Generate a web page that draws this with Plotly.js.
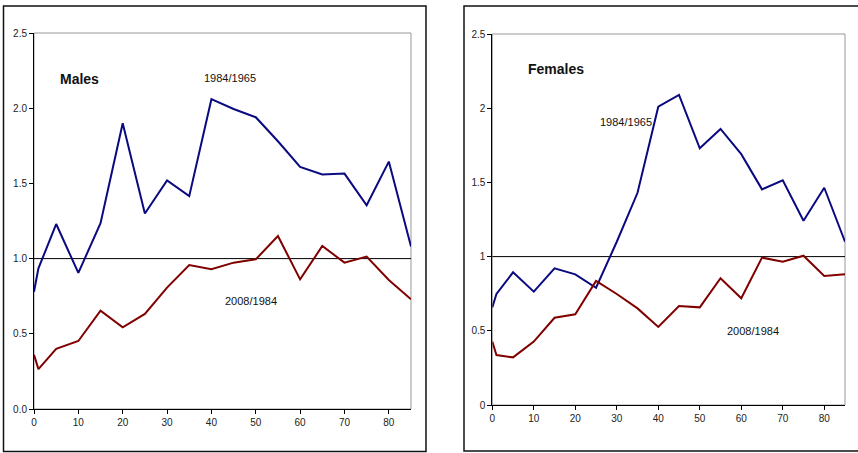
<!DOCTYPE html>
<html>
<head>
<meta charset="utf-8">
<script src="https://cdn.plot.ly/plotly-3.0.1.min.js"></script>
<style>html,body{margin:0;padding:0;background:#fff;}#chart{width:858px;height:453px;}</style>
</head>
<body>
<div id="chart"></div>
<script>
var ages = [0, 1, 5, 10, 15, 20, 25, 30, 35, 40, 45, 50, 55, 60, 65, 70, 75, 80, 85];
var males8465 = [0.78, 0.935, 1.23, 0.905, 1.235, 1.90, 1.30, 1.52, 1.415, 2.06, 1.995, 1.94, 1.78, 1.61, 1.56, 1.565, 1.355, 1.645, 1.08];
var males0884 = [0.36, 0.265, 0.40, 0.452, 0.654, 0.543, 0.632, 0.807, 0.957, 0.929, 0.973, 0.995, 1.15, 0.862, 1.084, 0.973, 1.013, 0.858, 0.73];
var females8465 = [0.658, 0.748, 0.894, 0.764, 0.921, 0.88, 0.79, 1.1, 1.43, 2.01, 2.089, 1.73, 1.86, 1.69, 1.453, 1.514, 1.242, 1.464, 1.10];
var females0884 = [0.427, 0.337, 0.321, 0.427, 0.588, 0.611, 0.836, 0.748, 0.651, 0.526, 0.667, 0.658, 0.854, 0.719, 0.993, 0.966, 1.006, 0.869, 0.881];
var panelTitles = ['Males', 'Females'];
var seriesNames = ['1984/1965', '2008/1984'];

var blue = '#0a0a80';
var red = '#800000';
var fontFam = '"Liberation Sans", Arial, sans-serif';

var traces = [
  {x: ages, y: males8465, xaxis: 'x', yaxis: 'y', mode: 'lines', line: {color: blue, width: 2}, name: seriesNames[0]},
  {x: ages, y: males0884, xaxis: 'x', yaxis: 'y', mode: 'lines', line: {color: red, width: 2}, name: seriesNames[1]},
  {x: ages, y: females8465, xaxis: 'x2', yaxis: 'y2', mode: 'lines', line: {color: blue, width: 2}, name: seriesNames[0]},
  {x: ages, y: females0884, xaxis: 'x2', yaxis: 'y2', mode: 'lines', line: {color: red, width: 2}, name: seriesNames[1]}
];

function xax(domain, anchor) {
  return {domain: domain, anchor: anchor, range: [0, 85], dtick: 10, tick0: 0, showgrid: false, zeroline: false,
    showline: true, linecolor: '#000', linewidth: 1, ticks: 'outside', ticklen: 4, tickcolor: '#000',
    tickfont: {family: fontFam, size: 10, color: '#222'}, fixedrange: true};
}
function yax(domain, anchor, fmt) {
  return {domain: domain, anchor: anchor, range: [0, 2.5], dtick: 0.5, tick0: 0, tickformat: fmt, showgrid: false, zeroline: false,
    showline: true, linecolor: '#000', linewidth: 1, ticks: 'outside', ticklen: 4, tickcolor: '#000',
    tickfont: {family: fontFam, size: 10, color: '#222'}, fixedrange: true};
}

var W = 858, H = 453;
var L = {x0: 34 / W, x1: 411 / W, y0: 1 - 409 / H, y1: 1 - 33 / H};
var R = {x0: 492.3 / W, x1: 845 / W, y0: 1 - 405 / H, y1: 1 - 34 / H};

function ann(x, y, text, size) {
  return {xref: 'paper', yref: 'paper', x: x / W, y: 1 - y / H, xanchor: 'center', yanchor: 'middle',
    text: text, showarrow: false, font: {family: fontFam, size: size, color: '#111'}};
}

var layout = {
  width: W, height: H,
  margin: {l: 0, r: 0, t: 0, b: 0},
  paper_bgcolor: '#fff', plot_bgcolor: '#fff',
  showlegend: false,
  xaxis: xax([L.x0, L.x1], 'y'),
  yaxis: yax([L.y0, L.y1], 'x', '.1f'),
  xaxis2: xax([R.x0, R.x1], 'y2'),
  yaxis2: yax([R.y0, R.y1], 'x2', ''),
  shapes: [
    {type: 'rect', xref: 'paper', yref: 'paper', x0: 3.5 / W, x1: 426 / W, y0: 1.5 / H, y1: 1 - 6 / H, line: {color: '#111', width: 1.5}},
    {type: 'rect', xref: 'paper', yref: 'paper', x0: 464 / W, x1: 870 / W, y0: 2 / H, y1: 1 - 6 / H, line: {color: '#111', width: 1.5}},
    {type: 'rect', xref: 'paper', yref: 'paper', x0: L.x0, x1: L.x1, y0: L.y0, y1: L.y1, line: {color: '#999', width: 1}, layer: 'below'},
    {type: 'rect', xref: 'paper', yref: 'paper', x0: R.x0, x1: R.x1, y0: R.y0, y1: R.y1, line: {color: '#999', width: 1}, layer: 'below'},
    {type: 'line', xref: 'x domain', yref: 'y', x0: 0, x1: 1, y0: 1, y1: 1, line: {color: '#000', width: 1}, layer: 'below'},
    {type: 'line', xref: 'x2 domain', yref: 'y2', x0: 0, x1: 1, y0: 1, y1: 1, line: {color: '#000', width: 1}, layer: 'below'}
  ],
  annotations: [
    ann(79, 79, '<b>' + panelTitles[0] + '</b>', 14),
    ann(230, 78, seriesNames[0], 11),
    ann(251, 301, seriesNames[1], 11),
    ann(556, 69, '<b>' + panelTitles[1] + '</b>', 14),
    ann(626, 122, seriesNames[0], 11),
    ann(753, 331, seriesNames[1], 11)
  ]
};

Plotly.newPlot('chart', traces, layout, {displayModeBar: false, staticPlot: true});
</script>
</body>
</html>
